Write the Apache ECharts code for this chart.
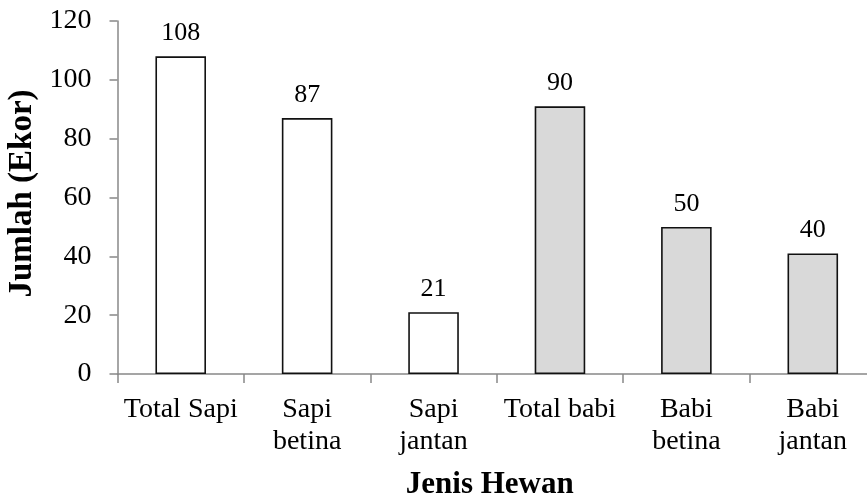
<!DOCTYPE html>
<html>
<head>
<meta charset="utf-8">
<script src="https://cdn.jsdelivr.net/npm/echarts@6/dist/echarts.min.js"></script>
<style>
  html, body { margin: 0; padding: 0; background: #fff; }
  #chart { width: 867px; height: 501px; }
</style>
</head>
<body>
<div id="chart"></div>
<script>
// kategori hewan
const categories = ['Total Sapi', 'Sapi\nbetina', 'Sapi\njantan', 'Total babi', 'Babi\nbetina', 'Babi\njantan'];
// tinggi batang
const values = [108, 87, 21, 91, 50, 41];
// label angka di atas batang
const valueLabels = ['108', '87', '21', '90', '50', '40'];
// warna isi: sapi putih, babi abu-abu
const fills = ['#ffffff', '#ffffff', '#ffffff', '#d9d9d9', '#d9d9d9', '#d9d9d9'];
const yTicks = [0, 20, 40, 60, 80, 100, 120];

const font = '"Liberation Serif", "Times New Roman", serif';

const chart = echarts.init(document.getElementById('chart'));
chart.setOption({
  animation: false,
  grid: {
    left: 117.5,
    right: -9,
    top: 21,
    bottom: 127,
    containLabel: false,
    outerBoundsMode: 'none'
  },
  xAxis: {
    type: 'category',
    data: categories,
    name: 'Jenis Hewan',
    nameLocation: 'middle',
    nameMoveOverlap: false,
    nameGap: 95,
    nameTextStyle: {
      fontFamily: font, fontSize: 31, fontWeight: 'bold', color: '#000',
      padding: [0, 14, 0, 0]
    },
    axisLine: { lineStyle: { color: '#888', width: 1.5 } },
    axisTick: { show: true, length: 9, lineStyle: { color: '#888', width: 1.5 } },
    axisLabel: {
      interval: 0,
      margin: 20,
      fontFamily: font,
      fontSize: 28,
      lineHeight: 32,
      color: '#000'
    }
  },
  yAxis: {
    type: 'value',
    min: yTicks[0],
    max: yTicks[yTicks.length - 1],
    interval: 20,
    name: 'Jumlah (Ekor)',
    nameLocation: 'middle',
    nameMoveOverlap: false,
    nameGap: 79,
    nameTextStyle: {
      fontFamily: font, fontSize: 33, fontWeight: 'bold', color: '#000',
      padding: [0, 0, 0, 8]
    },
    splitLine: { show: false },
    axisLine: { show: true, lineStyle: { color: '#888', width: 1.5 } },
    axisTick: { show: true, length: 8, lineStyle: { color: '#888', width: 1.5 } },
    axisLabel: {
      margin: 26,
      fontFamily: font,
      fontSize: 28,
      color: '#000'
    }
  },
  series: [{
    type: 'bar',
    barWidth: '40%',
    data: values.map((v, i) => ({
      value: v,
      itemStyle: { color: fills[i] }
    })),
    itemStyle: { borderColor: '#111', borderWidth: 1.6 },
    label: {
      show: true,
      position: 'top',
      distance: 10,
      fontFamily: font,
      fontSize: 26,
      color: '#000',
      formatter: p => valueLabels[p.dataIndex]
    }
  }]
});
</script>
</body>
</html>
